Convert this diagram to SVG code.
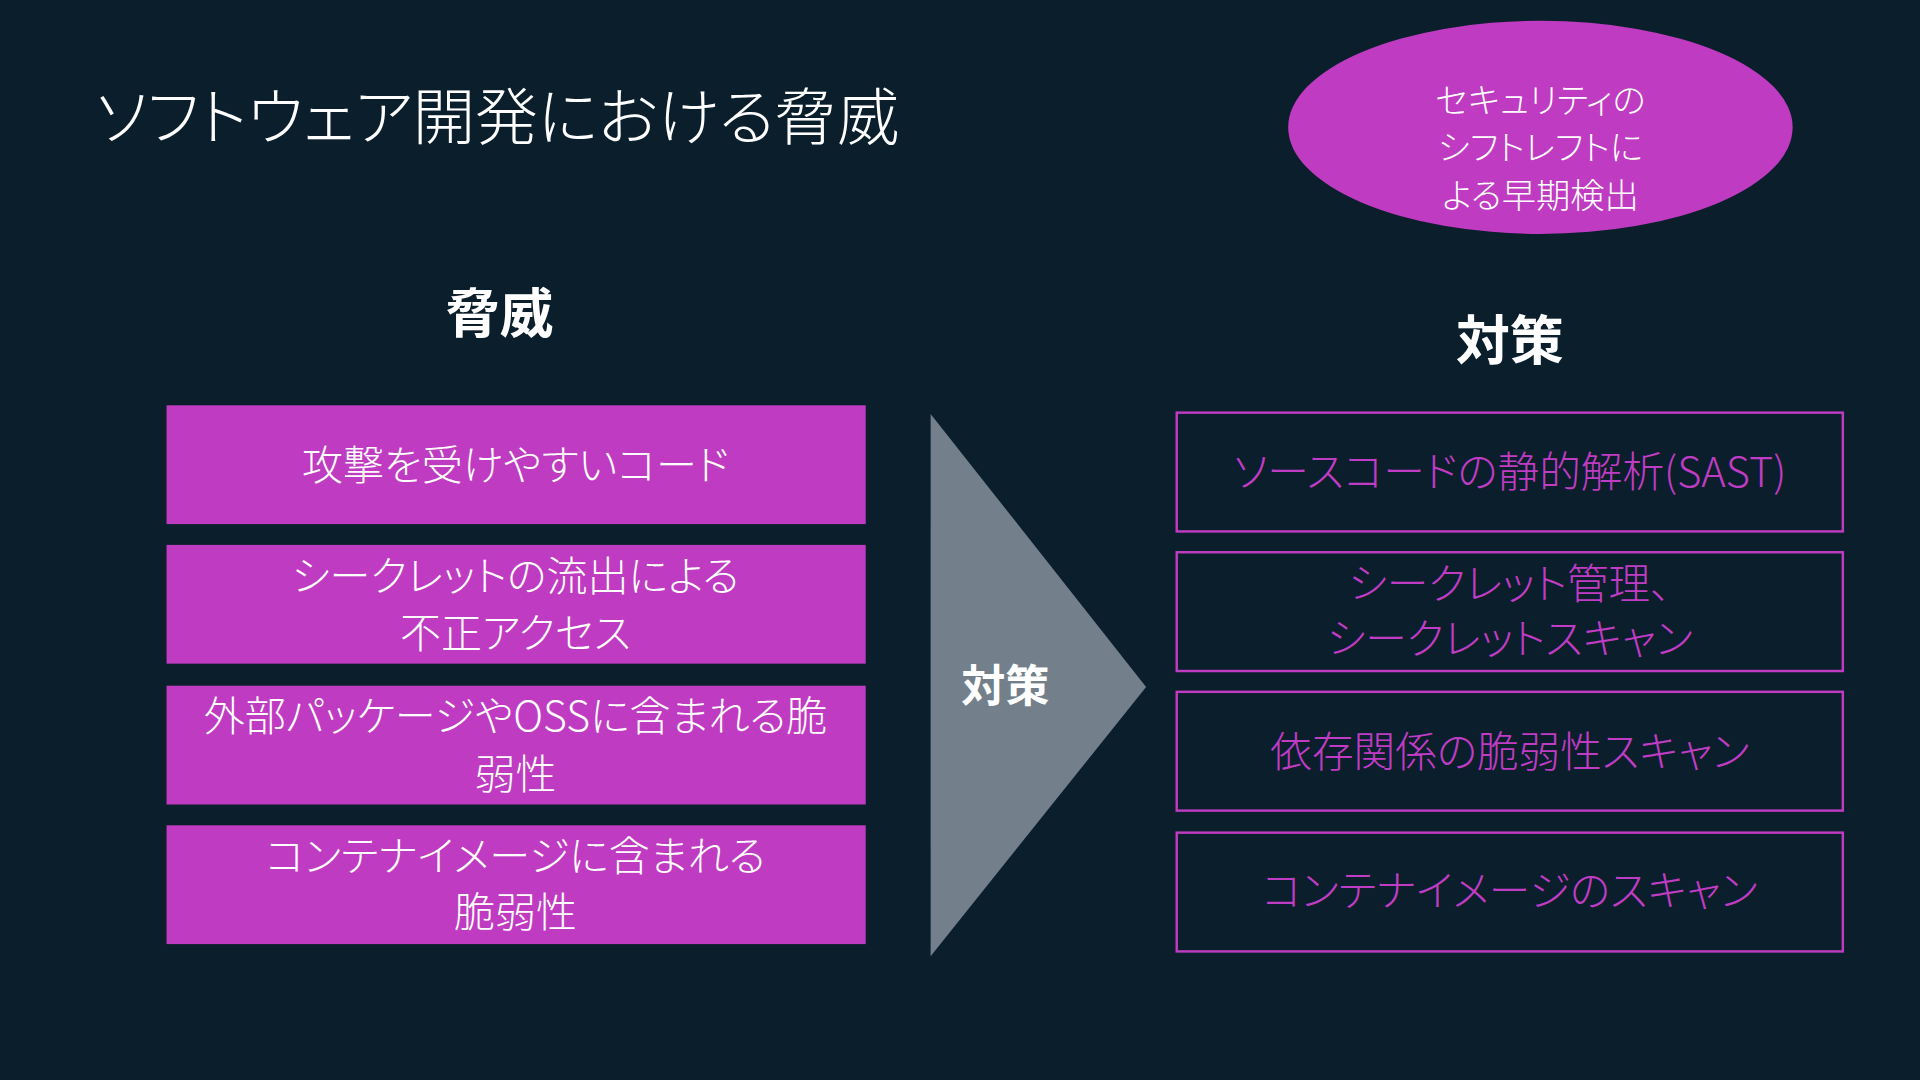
<svg xmlns="http://www.w3.org/2000/svg" width="1920" height="1080" viewBox="0 0 1920 1080">
<style>
text{font-family:"Noto Sans CJK JP","Noto Sans",sans-serif;text-anchor:middle;font-feature-settings:"palt"}
.t{fill:#ffffff;font-weight:300}
.title{font-size:51px;text-anchor:start}
.hd{fill:#ffffff;font-weight:700;font-size:44px}
.tri{fill:#ffffff;font-weight:700;font-size:36px}
.lt{font-size:33.5px}
.rt{fill:#c03cc4;font-weight:300;font-size:34px}
.fill{fill:#bf3bc1}
.out{fill:none;stroke:#bf3bc1;stroke-width:2}
</style>
<rect width="1920" height="1080" fill="#0b1e2c"/>
<g transform="scale(1.2244898)">
<g id="title"><text class="t title" x="78" y="114">ソフトウェア開発における脅威</text></g>
<g id="shift-left">
<ellipse class="fill" cx="1258" cy="104" rx="206" ry="87"/>
<text class="t" font-size="28" x="1258" y="92">セキュリティの</text>
<text class="t" font-size="28" x="1258" y="131">シフトレフトに</text>
<text class="t" font-size="28" x="1258" y="170">よる早期検出</text>
</g>
<g id="hd-threat"><text class="hd" x="408" y="272">脅威</text></g>
<g id="hd-measure"><text class="hd" x="1233" y="294">対策</text></g>
<g id="threat1"><rect class="fill" x="136" y="331" width="571" height="97"/>
<text class="t lt" x="421" y="392">攻撃を受けやすいコード</text></g>
<g id="threat2"><rect class="fill" x="136" y="445" width="571" height="97"/>
<text class="t lt" x="421" y="483">シークレットの流出による</text>
<text class="t lt" x="421" y="529">不正アクセス</text></g>
<g id="threat3"><rect class="fill" x="136" y="560" width="571" height="97"/>
<text class="t lt" x="421" y="597">外部パッケージやOSSに含まれる脆</text>
<text class="t lt" x="421" y="644">弱性</text></g>
<g id="threat4"><rect class="fill" x="136" y="674" width="571" height="97"/>
<text class="t lt" x="421" y="711">コンテナイメージに含まれる</text>
<text class="t lt" x="421" y="757">脆弱性</text></g>
<g id="connectors">
<polygon points="760,338 936,561 760,781" fill="#737f8a"/>
<text class="tri" x="821" y="573">対策</text>
</g>
<g id="measure1"><rect class="out" x="961" y="337" width="544" height="97"/>
<text class="rt" x="1233" y="398">ソースコードの静的解析(SAST)</text></g>
<g id="measure2"><rect class="out" x="961" y="451" width="544" height="97"/>
<text class="rt" x="1233" y="489">シークレット管理、</text>
<text class="rt" x="1233" y="534">シークレットスキャン</text></g>
<g id="measure3"><rect class="out" x="961" y="565" width="544" height="97"/>
<text class="rt" x="1233" y="626">依存関係の脆弱性スキャン</text></g>
<g id="measure4"><rect class="out" x="961" y="680" width="544" height="97"/>
<text class="rt" x="1233" y="740">コンテナイメージのスキャン</text></g>
</g>
</svg>
